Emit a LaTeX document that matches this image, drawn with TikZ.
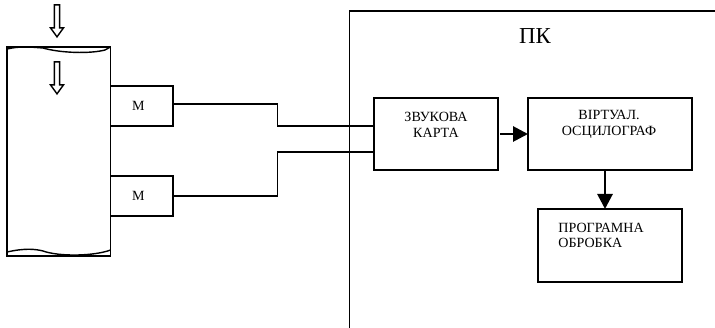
\documentclass[tikz,border=0pt]{standalone}
\usepackage{fontspec}
\setmainfont{Liberation Serif}
\usetikzlibrary{arrows.meta,shapes.arrows}

\tikzset{
  block/.style={draw=black, line width=0.8pt, inner sep=0pt, outer sep=0pt},
  wire/.style={black, line width=0.8pt},
  heavy/.style={black, line width=1.6pt, -{Triangle[width=0.3cm,length=0.3cm]}},
  press/.style={draw=black, line width=0.8pt, single arrow, shape border rotate=270,
    inner sep=0pt, outer sep=0pt, minimum width=0.26cm, minimum height=0.64cm,
    single arrow head extend=0.02cm, single arrow tip angle=72},
  small/.style={black, inner sep=0pt, font=\fontsize{8}{9}\selectfont},
}

\begin{document}
\begin{tikzpicture}
        \useasboundingbox (0,0) rectangle (14.3,6.56);

        % sample with its wavy ends
        \node[block, minimum width=2.07cm, minimum height=4.18cm] (body) at (1.175,3.53) {};
        \draw[wire] (0.14,5.58) .. controls (0.4,5.64) and (0.6,5.62) .. (0.86,5.6)
          .. controls (1.2,5.5) and (1.8,5.48) .. (2.1,5.56) -- (2.21,5.62);
        \draw[wire] (0.14,1.52) .. controls (0.5,1.6) and (0.7,1.58) .. (0.86,1.54)
          .. controls (1.2,1.42) and (1.9,1.44) .. (2.21,1.56);

        \node[press] (press1) at (1.14,6.18) {};
        \node[press] (press2) at (1.14,5.04) {};

        % microphones
        \node[block, minimum width=1.25cm, minimum height=0.8cm] (mic1) at (2.835,4.44) {};
        \node[block, minimum width=1.25cm, minimum height=0.8cm] (mic2) at (2.835,2.64) {};
        \node[small] (micname1) at ([xshift=-0.07cm]mic1.center) {М};
        \node[small] (micname2) at ([xshift=-0.07cm]mic2.center) {М};

        % computer
        \coordinate (pcbottom) at (6.99,0);
        \coordinate (pcright) at (14.3,6.34);
        \draw[wire] (pcbottom) |- (pcright);
        \node[black, inner sep=0pt, font=\fontsize{13}{15}\selectfont] (pc) at (10.7,5.84) {ПК};

        \node[block, minimum width=2.48cm, minimum height=1.44cm] (sound) at (8.72,3.88) {};
        \node[block, minimum width=3.28cm, minimum height=1.44cm] (virt) at (12.2,3.88) {};
        \node[block, minimum width=2.88cm, minimum height=1.46cm] (prog) at (12.2,1.65) {};

        \node[small, align=center] (soundname) at (8.72,4.07) {ЗВУКОВА\\КАРТА};
        \node[small, align=center] (virtname) at (12.18,4.07) {ВІРТУАЛ.\\ОСЦИЛОГРАФ};
        \node[small, align=left, anchor=west] (progname) at (11.16,1.85) {ПРОГРАМНА\\ОБРОБКА};

        % cables
        \coordinate (bend1) at (5.55,4.04);
        \coordinate (bend2) at (5.55,3.52);
        \draw[wire] ([yshift=0.04cm]mic1.east) -| (bend1) -- (bend1 -| sound.west);
        \draw[wire] (mic2.east) -| (bend2) -- (bend2 -| sound.west);

        \draw[heavy, shorten <=0.04cm] (sound.east) -- (virt.west);
        \draw[heavy] ([xshift=-0.1cm]virt.south) -- ([xshift=-0.1cm]prog.north);
\end{tikzpicture}
\end{document}
